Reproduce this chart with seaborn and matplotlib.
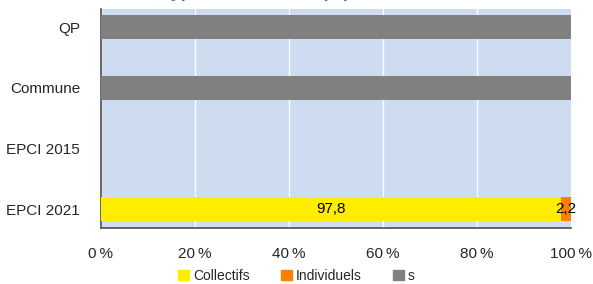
import matplotlib
matplotlib.use("Agg")
import matplotlib.pyplot as plt
import matplotlib.patches as mpatches
import numpy as np
import pandas as pd
import seaborn as sns

categories = ["QP", "Commune", "EPCI 2015", "EPCI 2021"]
collectifs = [0.0, 0.0, 0.0, 97.8]
individuels = [0.0, 0.0, 0.0, 2.2]
secret = [100.0, 100.0, 0.0, 0.0]
series_names = ["Collectifs", "Individuels", "s"]
colors = ["#ffed00", "#ff7f00", "#808080"]
xticks = [0, 20, 40, 60, 80, 100]
xtick_labels = ["0\u202f%", "20\u202f%", "40\u202f%", "60\u202f%", "80\u202f%", "100\u202f%"]

sns.set_theme(style="white")
plt.rcParams["font.family"] = ["Liberation Sans", "DejaVu Sans"]

fig = plt.figure(figsize=(5.93, 2.84), dpi=100)
ax = fig.add_axes([101/593, 1 - 228/284, 470/593, 219/284])
ax.set_facecolor("#cddcf0")

c = np.array(collectifs)
i = np.array(individuels)
s = np.array(secret)
df = pd.DataFrame({"cat": categories, "c": c, "ci": c + i, "cis": c + i + s})

for col, color in [("cis", colors[2]), ("ci", colors[1]), ("c", colors[0])]:
    sns.barplot(data=df, x=col, y="cat", orient="h", color=color, width=0.4,
                saturation=1, ax=ax, order=categories, zorder=3, linewidth=0)

# value labels
for k, cat in enumerate(categories):
    if c[k] > 0:
        ax.text(c[k] / 2, k, f"{c[k]:.1f}".replace(".", ","), ha="center", va="center",
                fontsize=11, color="black", zorder=5)
    if i[k] > 0:
        ax.text(c[k] + i[k] / 2, k, f"{i[k]:.1f}".replace(".", ","), ha="center",
                va="center", fontsize=11, color="black", zorder=5)

ax.set_xlim(0, 100)
ax.set_ylim(3.31, -0.3)
ax.set_xlabel("")
ax.set_ylabel("")
ax.set_xticks(xticks)
ax.set_xticklabels(xtick_labels, fontsize=11)
ax.set_yticks(range(len(categories)))
ax.set_yticklabels(categories, fontsize=11)
ax.set_yticks([0.5, 1.5, 2.5], minor=True)
ax.tick_params(axis="y", which="major", length=0, pad=15)
ax.tick_params(axis="y", which="minor", length=6, color="#999999", width=1)
ax.tick_params(axis="x", which="major", length=7, color="#999999", width=1, pad=7)
ax.grid(axis="x", color="white", linewidth=1, zorder=1)
ax.set_axisbelow(True)
for side in ["top", "right"]:
    ax.spines[side].set_visible(False)
ax.spines["left"].set_color("#555555")
ax.spines["bottom"].set_color("#555555")

fig.text(0.43, 1.028, "Type de résidence (%)", ha="center", va="center",
         fontsize=13, fontweight="bold", color="#3a6fc4")

handles = [mpatches.Patch(color=col, label=n) for n, col in zip(series_names, colors)]
fig.legend(handles=handles, loc="center", bbox_to_anchor=(0.5, 8/284), ncol=3,
           frameon=False, fontsize=10, handlelength=0.8, handleheight=0.8,
           columnspacing=2.2, handletextpad=0.3, borderpad=0.1)

fig.savefig("out.png", dpi=100)
